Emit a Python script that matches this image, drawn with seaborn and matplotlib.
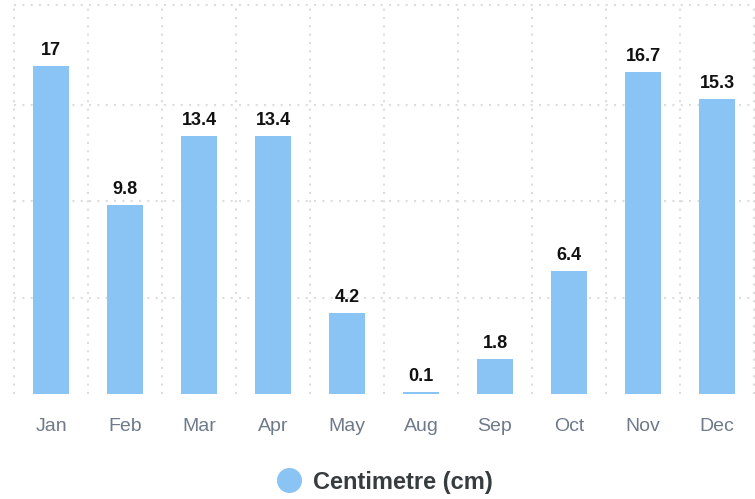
import numpy as np
import matplotlib
matplotlib.use("Agg")
import matplotlib.pyplot as plt
from matplotlib.lines import Line2D
import seaborn as sns

months = ["Jan", "Feb", "Mar", "Apr", "May", "Aug", "Sep", "Oct", "Nov", "Dec"]
snow_cm = [17, 9.8, 13.4, 13.4, 4.2, 0.1, 1.8, 6.4, 16.7, 15.3]
series_name = "Centimetre (cm)"

bar_color = "#8AC4F5"

sns.set_style("white")
plt.rcParams["font.family"] = ["Liberation Sans", "DejaVu Sans"]

fig = plt.figure(figsize=(7.55, 4.99), dpi=100)
ax = fig.add_axes([14 / 755, 1 - 394 / 499, 740 / 755, 389 / 499])

sns.barplot(x=months, y=snow_cm, color=bar_color, saturation=1, width=0.49,
            linewidth=0, ax=ax)

y_top = 20.18
ax.set_ylim(0, y_top)
ax.set_xlim(-0.5, len(months) - 0.5)

# dotted grid: horizontal at 5, 10, 15 and the top edge, vertical between categories
grid_kw = dict(color="#DDDDDD", linewidth=1.5, linestyle=(0, (1, 3)), zorder=0,
               clip_on=False)
for yv in [5, 10, 15, y_top]:
    ax.axhline(yv, **grid_kw)
for xv in np.arange(-0.5, len(months), 1):
    ax.axvline(xv, **grid_kw)
ax.set_axisbelow(True)

for s in ax.spines.values():
    s.set_visible(False)
ax.set_yticks([])
ax.tick_params(axis="x", length=0, pad=17, labelsize=14, labelcolor="#6E7A8A")
ax.set_xlabel("")
ax.set_ylabel("")

labels = [("%g" % v) for v in snow_cm]
ax.bar_label(ax.containers[0], labels=labels, padding=5,
             fontsize=13, fontweight="bold", color="#111111")

handle = Line2D([], [], marker="o", linestyle="", markersize=17,
                markerfacecolor=bar_color, markeredgecolor=bar_color)
fig.legend(handles=[handle], labels=[series_name], loc="center",
           bbox_to_anchor=(385 / 755, 1 - 482 / 499), frameon=False,
           handlelength=1.0, handletextpad=0.55, labelcolor="#373D3F",
           prop={"weight": "bold", "size": 17, "family": "Liberation Sans"})

fig.savefig("out.png", dpi=100)
